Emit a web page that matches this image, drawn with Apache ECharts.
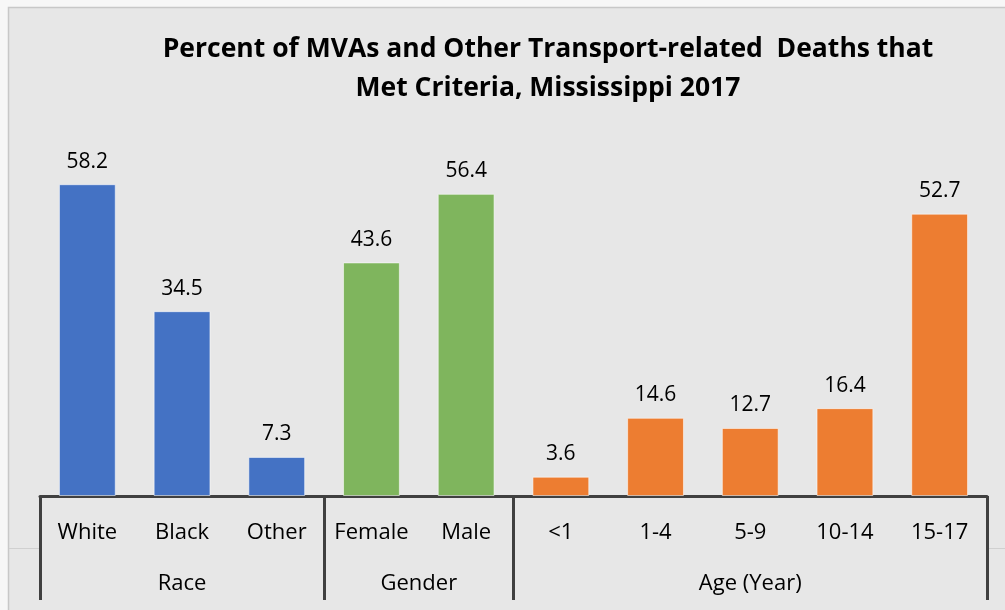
<!DOCTYPE html>
<html>
<head>
<meta charset="utf-8">
<script src="https://cdn.jsdelivr.net/npm/echarts@6/dist/echarts.min.js"></script>
<style>
  html, body { margin: 0; padding: 0; background: #f7f7f7; }
  #main { width: 1005px; height: 610px; }
</style>
</head>
<body>
<div id="main"></div>
<script>
  // bar categories and values
  const categories = ['White', 'Black', 'Other', 'Female', 'Male', '<1', '1-4', '5-9', '10-14', '15-17'];
  const values = [58.2, 34.5, 7.3, 43.6, 56.4, 3.6, 14.6, 12.7, 16.4, 52.7];
  // groups: name and how many categories each one covers
  const groupNames = ['Race', 'Gender', 'Age (Year)'];
  const groupSizes = [3, 2, 5];

  const groupColors = ['#4472c4', '#7fb55d', '#ed7d31'];
  const font = 'Open Sans';
  const axisColor = '#404040';

  // boundaries and centres of each group on a 0..n value axis
  let bounds = [0];
  let centers = [];
  let barColors = [];
  groupSizes.forEach(function (n, g) {
    let start = bounds[bounds.length - 1];
    bounds.push(start + n);
    centers.push(start + n / 2);
    for (let i = 0; i < n; i++) barColors.push(groupColors[g]);
  });

  let chartDom = document.getElementById('main');
  let myChart = echarts.init(chartDom);

  let option = {
    backgroundColor: '#f7f7f7',
    animation: false,
    graphic: [
      {
        type: 'rect',
        z: -10,
        shape: { x: 8.5, y: 7.5, width: 1010, height: 620 },
        style: { fill: '#e7e7e7', stroke: '#c8c8c8', lineWidth: 1.5 }
      },
      {
        type: 'line',
        shape: { x1: 9, y1: 548.5, x2: 40, y2: 548.5 },
        style: { stroke: '#d0d0d0', lineWidth: 1 }
      },
      {
        type: 'line',
        shape: { x1: 987, y1: 548.5, x2: 1005, y2: 548.5 },
        style: { stroke: '#d0d0d0', lineWidth: 1 }
      }
    ],
    title: {
      text: 'Percent of MVAs and Other Transport-related  Deaths that\nMet Criteria, Mississippi 2017',
      left: 543,
      top: 25,
      textAlign: 'center',
      textStyle: {
        fontFamily: font,
        fontWeight: 'bold',
        fontSize: 26.5,
        lineHeight: 39,
        color: '#000'
      }
    },
    grid: {
      left: 40,
      right: 18,
      top: 121,
      bottom: 114,
      outerBoundsMode: 'none'
    },
    xAxis: [
      {
        type: 'category',
        data: categories,
        position: 'bottom',
        axisLine: { lineStyle: { color: axisColor, width: 3 } },
        axisTick: { show: false },
        axisLabel: {
          interval: 0,
          margin: 26,
          fontFamily: font,
          fontSize: 22,
          color: '#000'
        }
      },
      {
        type: 'value',
        min: 0,
        max: categories.length,
        position: 'bottom',
        axisLine: { show: false },
        splitLine: { show: false },
        axisTick: {
          show: true,
          customValues: bounds,
          length: 104,
          lineStyle: { color: axisColor, width: 3 }
        },
        axisLabel: {
          customValues: centers,
          margin: 77,
          fontFamily: font,
          fontSize: 22,
          color: '#000',
          formatter: function (v) {
            return groupNames[centers.indexOf(v)];
          }
        }
      }
    ],
    yAxis: {
      type: 'value',
      min: 0,
      max: 70,
      show: false
    },
    series: [
      {
        type: 'bar',
        xAxisIndex: 0,
        barCategoryGap: '40%',
        data: values.map(function (v, i) {
          return { value: v, itemStyle: { color: barColors[i] } };
        }),
        itemStyle: {
          borderColor: 'rgba(255,255,255,0.55)',
          borderWidth: 1
        },
        label: {
          show: true,
          position: 'top',
          distance: 12,
          fontFamily: font,
          fontSize: 21,
          color: '#000'
        }
      }
    ]
  };
  option && myChart.setOption(option);
</script>
</body>
</html>
